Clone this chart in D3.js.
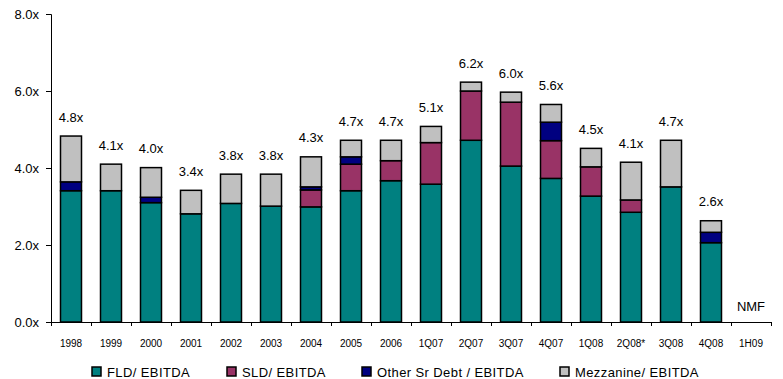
<!DOCTYPE html>
<html>
<head>
<meta charset="utf-8">
<script src="https://cdn.jsdelivr.net/npm/d3@7"></script>
<style>
  body { margin: 0; background: #fff; }
  svg { display: block; font-family: Arial, "Liberation Sans", sans-serif; }
</style>
</head>
<body>
<svg id="chart"></svg>
<script>
// Periods on the x axis
const periods = ["1998", "1999", "2000", "2001", "2002", "2003", "2004", "2005", "2006",
    "1Q07", "2Q07", "3Q07", "4Q07", "1Q08", "2Q08*", "3Q08", "4Q08", "1H09"];

// Leverage multiples by component (1H09 not meaningful)
const fldValues   = [3.41, 3.41, 3.10, 2.81, 3.08, 3.01, 2.99, 3.41, 3.67, 3.58, 4.72, 4.05, 3.73, 3.27, 2.85, 3.51, 2.06, 0];
const sldValues   = [0, 0, 0, 0, 0, 0, 0.44, 0.69, 0.52, 1.08, 1.28, 1.66, 0.98, 0.76, 0.32, 0, 0, 0];
const otherValues = [0.23, 0, 0.14, 0, 0, 0, 0.08, 0.19, 0, 0, 0, 0, 0.48, 0, 0, 0, 0.27, 0];
const mezzValues  = [1.19, 0.69, 0.77, 0.61, 0.76, 0.83, 0.78, 0.43, 0.53, 0.42, 0.23, 0.26, 0.46, 0.48, 0.98, 1.21, 0.30, 0];

// Total labels above the bars
const totalLabels = ["4.8x", "4.1x", "4.0x", "3.4x", "3.8x", "3.8x", "4.3x", "4.7x", "4.7x",
    "5.1x", "6.2x", "6.0x", "5.6x", "4.5x", "4.1x", "4.7x", "2.6x", "NMF"];

// Y axis ticks
const yTicks = [0, 2, 4, 6, 8];

const seriesKeys = ["fld", "sld", "other", "mezz"];
const seriesNames = ["FLD/ EBITDA", "SLD/ EBITDA", "Other Sr Debt / EBITDA", "Mezzanine/ EBITDA"];
const seriesColors = ["#008080", "#993366", "#000080", "#c0c0c0"];

const width = 783, height = 379;
const margin = { top: 14, right: 12, bottom: 57, left: 51 };

const svg = d3.select("#chart")
    .attr("width", width)
    .attr("height", height);

const rows = periods.map((p, i) => ({
    period: p,
    fld: fldValues[i],
    sld: sldValues[i],
    other: otherValues[i],
    mezz: mezzValues[i],
    label: totalLabels[i]
}));

const x = d3.scaleBand()
    .domain(periods)
    .range([margin.left, margin.left + 720])
    .paddingInner(0.475)
    .paddingOuter(0.2375);

// boundaries between categories, used for the x tick marks
const xEdges = d3.scaleLinear()
    .domain([0, periods.length])
    .range([margin.left, margin.left + 720]);

const y = d3.scaleLinear()
    .domain([0, 8])
    .range([height - margin.bottom, margin.top]);

const color = d3.scaleOrdinal().domain(seriesKeys).range(seriesColors);

// Y axis
const yAxis = svg.append("g")
    .attr("transform", `translate(${margin.left},0)`)
    .call(d3.axisLeft(y).tickValues(yTicks).tickSize(5).tickPadding(7).tickFormat(d => d.toFixed(1) + "x"));
yAxis.select(".domain").attr("stroke", "#000");
yAxis.selectAll("text").style("font-size", "13px").attr("fill", "#000")
    .attr("dy", "0.36em");

// X axis: line + tick marks at the category edges
const xAxis = svg.append("g")
    .attr("transform", `translate(0,${y(0)})`)
    .call(d3.axisBottom(xEdges).tickValues(d3.range(periods.length + 1)).tickSize(4).tickSizeOuter(0).tickFormat(""));
xAxis.select(".domain").attr("stroke", "#000");

svg.append("g")
    .selectAll("text")
    .data(periods)
    .join("text")
    .attr("x", d => x(d) + x.bandwidth() / 2)
    .attr("y", y(0) + 25)
    .attr("text-anchor", "middle")
    .style("font-size", "10px")
    .text(d => d);

// Stacked bars
const stacked = d3.stack().keys(seriesKeys)(rows);

svg.append("g")
    .selectAll("g")
    .data(stacked)
    .join("g")
    .attr("fill", d => color(d.key))
    .selectAll("rect")
    .data(d => d.filter(s => s[1] - s[0] > 0))
    .join("rect")
    .attr("x", d => x(d.data.period))
    .attr("y", d => y(d[1]))
    .attr("width", x.bandwidth())
    .attr("height", d => y(d[0]) - y(d[1]))
    .attr("stroke", "#000")
    .attr("stroke-width", 1.5);

// Total labels
svg.append("g")
    .selectAll("text")
    .data(rows)
    .join("text")
    .attr("x", d => x(d.period) + x.bandwidth() / 2)
    .attr("y", d => {
        const total = d.fld + d.sld + d.other + d.mezz;
        return total > 0 ? y(total) - 14.5 : y(0) - 11;
    })
    .attr("text-anchor", "middle")
    .style("font-size", "13px")
    .text(d => d.label);

// Legend
const legendX = [92, 227, 362, 560];
const legend = svg.append("g")
    .selectAll("g")
    .data(seriesKeys)
    .join("g")
    .attr("transform", (d, i) => `translate(${legendX[i]},367)`);

legend.append("rect")
    .attr("width", 9)
    .attr("height", 9)
    .attr("fill", d => color(d))
    .attr("stroke", "#000")
    .attr("stroke-width", 1.5);

legend.append("text")
    .attr("x", 15)
    .attr("y", 9.5)
    .style("font-size", "13px")
    .style("letter-spacing", "0.4px")
    .text((d, i) => seriesNames[i]);
</script>
</body>
</html>
